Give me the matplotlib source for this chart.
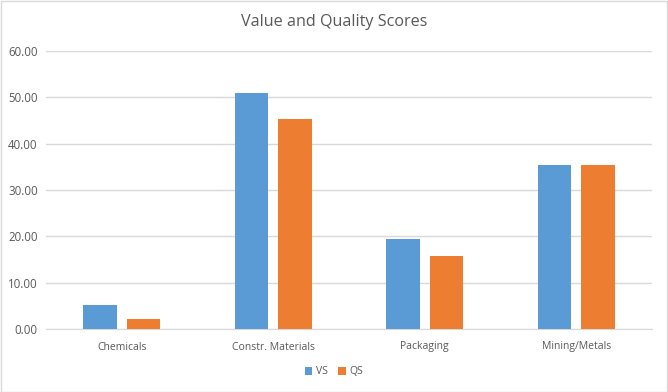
import numpy as np
import matplotlib.pyplot as plt
from matplotlib.patches import Rectangle

categories = ['Chemicals', 'Constr. Materials', 'Packaging', 'Mining/Metals']
vs = [5.2, 50.9, 19.4, 35.4]
qs = [2.2, 45.3, 15.8, 35.4]

blue = '#5B9BD5'
orange = '#ED7D31'
txt = '#595959'

plt.rcParams['font.family'] = ['Open Sans', 'DejaVu Sans']

fig = plt.figure(figsize=(6.68, 3.92), dpi=100)
ax = fig.add_axes([46/668, 1-329/392, (652-46)/668, (329-51)/392])

x = np.arange(len(categories))
w = 0.224
ax.bar(x - 0.1436, vs, width=w, color=blue, label='VS', zorder=3)
ax.bar(x + 0.1436, qs, width=w, color=orange, label='QS', zorder=3)

ax.set_xlim(-0.5, len(categories) - 0.5)
ax.set_ylim(0, 60)
ax.set_yticks(np.arange(0, 61, 10))
ax.set_yticklabels(['{:.2f}'.format(v) for v in np.arange(0, 61, 10)])
ax.set_xticks(x)
ax.set_xticklabels(categories)
ax.tick_params(axis='both', length=0, labelsize=7.5, colors=txt)
ax.tick_params(axis='x', pad=9)
ax.tick_params(axis='y', pad=6, labelsize=8.3)
ax.grid(axis='y', color='#D9D9D9', linewidth=1, zorder=0)
for s in ['top', 'right', 'left']:
    ax.spines[s].set_visible(False)
ax.spines['bottom'].set_color('#D9D9D9')

fig.text(0.5, 1-22/392, 'Value and Quality Scores', ha='center', va='center',
         fontsize=11.6, color=txt)

fig.legend(loc='center', bbox_to_anchor=(0.5, 1-372/392), ncol=2, frameon=False,
           fontsize=7.5, handlelength=0.7, handleheight=0.7, handletextpad=0.4,
           columnspacing=1.0, labelcolor=txt)

fig.patches.append(Rectangle((0.001, 0.001), 0.997, 0.997, transform=fig.transFigure,
                             fill=False, edgecolor='#D9D9D9', linewidth=1))

fig.savefig('out.png', dpi=100)
